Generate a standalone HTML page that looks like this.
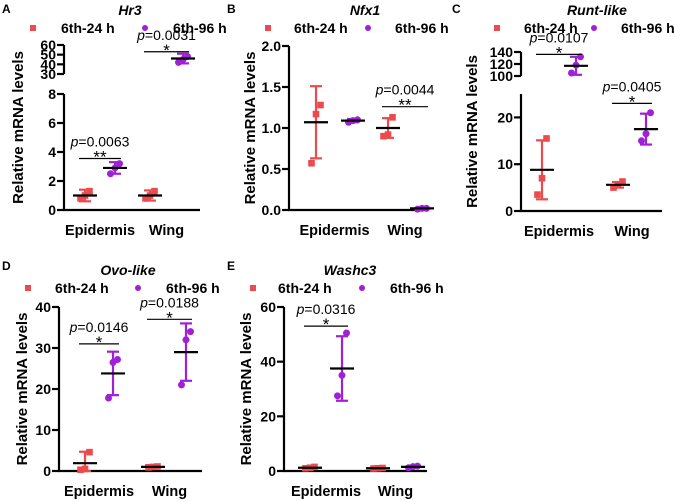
<!DOCTYPE html>
<html><head><meta charset="utf-8"><style>
body{margin:0;background:#fff}
svg{display:block;font-family:"Liberation Sans",Arial,sans-serif}
</style></head><body>
<svg id="fig" width="675" height="502" viewBox="0 0 675 502" xmlns="http://www.w3.org/2000/svg"></svg>
<script>
const groupNames = ["Epidermis","Wing"];
const seriesNames = ["6th-24 h","6th-96 h"];
// Panel A Hr3
const aPts = [[0.8,1.0,1.3],[2.5,2.9,3.2],[0.8,1.0,1.3],[42,45,48]];
const aMean = [1.0,2.9,1.0,46];
const aSd = [0.4,0.4,0.35,5];
// Panel B Nfx1
const bPts = [[0.57,1.17,1.28],[1.07,1.09,1.1],[0.9,0.92,1.13],[0.01,0.02,0.02]];
const bMean = [1.07,1.09,1.0,0.02];
const bSd = [0.44,0.02,0.12,0.005];
// Panel C Runt-like
const cPts = [[3.5,7,15.5],[105,118,132],[5,5.5,6.3],[15,16.5,21]];
const cMean = [8.8,117,5.6,17.5];
const cSd = [6.3,15,0.6,3.3];
// Panel D Ovo-like
const dPts = [[0.3,0.5,4.6],[17.8,26.5,27.2],[0.9,1,1.1],[21,32,34]];
const dMean = [1.9,23.8,1.0,29];
const dSd = [2.8,5.3,0.1,7];
// Panel E Washc3
const ePts = [[1,1.2,1.5],[27.5,35,50.5],[0.9,1,1.1],[1.2,1.6,1.8]];
const eMean = [1.2,37.5,1.0,1.5];
const eSd = [0.3,11.8,0.1,0.3];

const RED="#ec4a4c", PUR="#a020d8";
const svg=document.getElementById('fig');
const NS="http://www.w3.org/2000/svg";
function mk(tag,attrs,parent,text){const e=document.createElementNS(NS,tag);for(const k in attrs)e.setAttribute(k,attrs[k]);if(text!==undefined)e.textContent=text;(parent||svg).appendChild(e);return e;}

const panels=[
 {id:"a",letter:"A",lx:2,row:0,title:"Hr3",ax:64,axEnd:200,gx:[85,115,150,183],ytx:46,
  segs:[{lo:0,hi:8,y0:210,y1:94,ticks:[0,2,4,6,8]},{lo:30,hi:60,y0:74,y1:45,ticks:[30,40,50,60]}],
  pts:aPts,mean:aMean,sd:aSd,titleX:130,leg:[33,61,145,173],
  sig:[{g1:0,g2:1,v:3.55,star:"**",p:"0.0063"},{g1:2,g2:3,v:53,star:"*",p:"0.0031"}]},
 {id:"b",letter:"B",lx:227,row:0,title:"Nfx1",ax:289,axEnd:428,gx:[316,353,388,422],ytx:39,
  segs:[{lo:0,hi:2,y0:210,y1:46,ticks:[0,0.5,1,1.5,2],fmt:1}],
  pts:bPts,mean:bMean,sd:bSd,titleX:365,leg:[268,294,368,395],
  sig:[{g1:2,g2:3,v:1.26,star:"**",p:"0.0044"}]},
 {id:"c",letter:"C",lx:452,row:0,title:"Runt-like",ax:521,axEnd:662,gx:[542,576,618,646],ytx:49,
  segs:[{lo:0,hi:25,y0:211,y1:94,ticks:[0,10,20]},{lo:100,hi:140,y0:76,y1:52,ticks:[100,120,140]}],
  pts:cPts,mean:cMean,sd:cSd,titleX:597,leg:[497,524,594,621],
  sig:[{g1:0,g2:1,v:136,star:"*",p:"0.0107"},{g1:2,g2:3,v:23,star:"*",p:"0.0405"}]},
 {id:"d",letter:"D",lx:2,row:1,title:"Ovo-like",ax:59,axEnd:202,gx:[85,113,153,186],ytx:37,
  segs:[{lo:0,hi:40,y0:471,y1:307,ticks:[0,10,20,30,40]}],
  pts:dPts,mean:dMean,sd:dSd,titleX:128,leg:[28,55,138,166],
  sig:[{g1:0,g2:1,v:31,star:"*",p:"0.0146"},{g1:2,g2:3,v:37,star:"*",p:"0.0188"}]},
 {id:"e",letter:"E",lx:227,row:1,title:"Washc3",ax:284,axEnd:427,gx:[310,342,378,413],ytx:38,
  segs:[{lo:0,hi:60,y0:471,y1:307,ticks:[0,20,40,60]}],
  pts:ePts,mean:eMean,sd:eSd,titleX:350,leg:[253,278,362,390],
  sig:[{g1:0,g2:1,v:53,star:"*",p:"0.0316"}]}
];

panels.forEach(P=>{
  const g=mk('g',{});
  
  
  const base=P.segs[0].y0;
  const top=P.segs[P.segs.length-1].y1;
  function yv(v){
    if(P.segs.length>1 && v>P.segs[0].hi){const s=P.segs[1];return s.y0+(v-s.lo)/(s.hi-s.lo)*(s.y1-s.y0);}
    const s=P.segs[0];return s.y0+(v-s.lo)/(s.hi-s.lo)*(s.y1-s.y0);
  }
  const rowY=P.row?260:0;
  let t=mk('text',{x:P.lx,y:P.row?270:13,"font-size":12,"font-weight":"bold"},g,P.letter);
  
  t=mk('text',{x:P.titleX,y:rowY+15,"font-size":14,"font-weight":"bold","font-style":"italic","text-anchor":"middle"},g,P.title);
  
  const ly=rowY+33;
  let r=mk('rect',{x:P.leg[0]-3,y:ly-8,width:6,height:6,fill:RED},g);
  
  t=mk('text',{x:P.leg[1],y:ly,"font-size":14,"font-weight":"bold"},g,seriesNames[0]);
  
  r=mk('circle',{cx:P.leg[2],cy:ly-5,r:3,fill:PUR},g);
  
  t=mk('text',{x:P.leg[3],y:ly,"font-size":14,"font-weight":"bold"},g,seriesNames[1]);
  
  P.segs.forEach((s,i)=>{
    const l=mk('line',{x1:P.ax,x2:P.ax,y1:s.y0+(i===0?1:0),y2:s.y1,stroke:"#000","stroke-width":2.2},g);
    
    s.ticks.forEach(tv=>{
      const y=s.y0+(tv-s.lo)/(s.hi-s.lo)*(s.y1-s.y0);
      const tk=mk('line',{x1:P.ax-7,x2:P.ax,y1:y,y2:y,stroke:"#000","stroke-width":2.2},g);
      
      const tl=mk('text',{x:P.ax-8,y:y+5,"font-size":14,"font-weight":"bold","text-anchor":"end"},g,s.fmt?tv.toFixed(1):String(tv));
      
    });
  });
  const xl=mk('line',{x1:P.ax-1,x2:P.axEnd,y1:base,y2:base,stroke:"#000","stroke-width":2.2},g);
  
  [0,1].forEach(k=>{
    const cx=(P.gx[2*k]+P.gx[2*k+1])/2;
    const xt=mk('text',{x:cx,y:base+25,"font-size":14.5,"font-weight":"bold","text-anchor":"middle"},g,groupNames[k]);
    
  });
  const ymid=(base+top)/2;
  const yt=mk('text',{x:0,y:0,"font-size":15,"font-weight":"bold","text-anchor":"middle",transform:`translate(${P.ax-P.ytx+5},${ymid}) rotate(-90)`},g,"Relative mRNA levels");
  
  for(let i=0;i<4;i++){
    const col=i%2===0?RED:PUR, x=P.gx[i];
    const m=P.mean[i], sd=P.sd[i];
    const hiY=yv(m+sd), loY=yv(Math.max(m-sd,P.segs[0].lo));
    const eb=mk('line',{x1:x,x2:x,y1:hiY,y2:loY,stroke:col,"stroke-width":2.2},g);
    
    [hiY,loY].forEach(yy=>{const c=mk('line',{x1:x-6,x2:x+6,y1:yy,y2:yy,stroke:col,"stroke-width":2.2},g);
      });
    P.pts[i].forEach((v,j)=>{
      const dx=(j-1)*4.5, y=yv(v);
      let p;
      if(i%2===0)p=mk('rect',{x:x+dx-3.3,y:y-3.3,width:6.6,height:6.6,fill:col},g);
      else p=mk('circle',{cx:x+dx,cy:y,r:3.5,fill:col},g);
      
    });
    const ml=mk('line',{x1:x-12,x2:x+12,y1:yv(m),y2:yv(m),stroke:"#000","stroke-width":2.2},g);
    
  }
  P.sig.forEach(s=>{
    const y=yv(s.v), x1=P.gx[s.g1]-6, x2=P.gx[s.g2]+6;
    const bl=mk('line',{x1:x1,x2:x2,y1:y,y2:y,stroke:"#000","stroke-width":1.2},g);
    
    const st=mk('text',{x:(x1+x2)/2,y:y+4,"font-size":17,"text-anchor":"middle"},g,s.star);
    
    const pt=mk('text',{x:(x1+x2)/2,y:y-12,"font-size":14,"text-anchor":"middle"},g);
    
    mk('tspan',{"font-style":"italic"},pt,"p");
    mk('tspan',{},pt,"="+s.p);
  });
});
</script>
</body></html>
